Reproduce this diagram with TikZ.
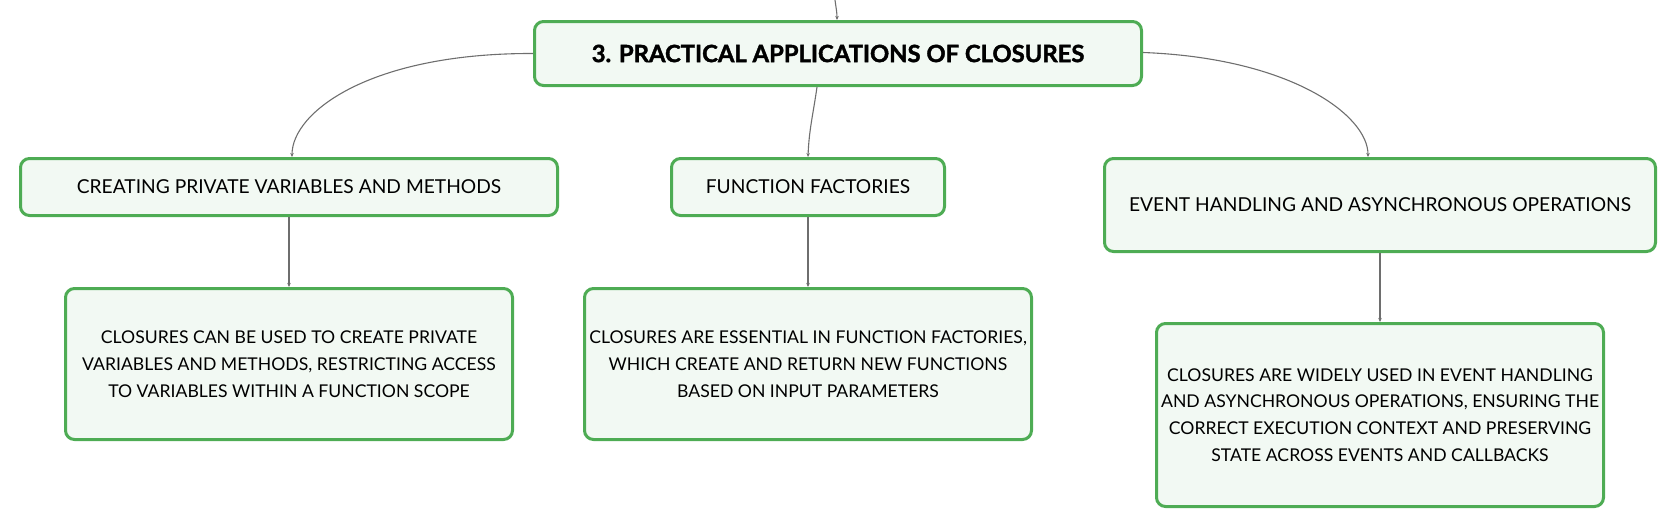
\documentclass[tikz,border=0pt]{standalone}
\usepackage{fontspec}
\setmainfont{Lato}
\usetikzlibrary{arrows.meta}
\definecolor{boxgreen}{RGB}{78,172,84}
\definecolor{boxfill}{RGB}{242,249,243}
\definecolor{linkgray}{RGB}{110,110,110}
\tikzset{
  mmbox/.style={draw=boxgreen, line width=3pt, fill=boxfill, rounded corners=9pt,
    inner sep=0pt, align=center, text=black},
  titlebox/.style={mmbox, font=\fontsize{23.8}{27}\selectfont\bfseries\addfontfeatures{FakeBold=1.6}},
  subbox/.style={mmbox, font=\fontsize{19.2}{23}\selectfont},
  leafbox/.style={mmbox, font=\fontsize{17.6}{26.7}\selectfont},
  link/.style={draw=linkgray, line width=1.1pt, -{Stealth[length=4pt,width=3.5pt]}},
}
\begin{document}
\begin{tikzpicture}[x=1pt,y=-1pt]
\useasboundingbox (0,0) rectangle (1678,530);
\node[titlebox, minimum width=607pt, minimum height=64pt] (main) at (838,53.5) {3. PRACTICAL APPLICATIONS OF CLOSURES};
\node[subbox, minimum width=537pt, minimum height=57pt] (c1) at (289,187) {CREATING PRIVATE VARIABLES AND METHODS};
\node[subbox, minimum width=273pt, minimum height=57pt] (c2) at (808,187) {FUNCTION FACTORIES};
\node[subbox, minimum width=551pt, minimum height=93pt] (c3) at (1380,205) {EVENT HANDLING AND ASYNCHRONOUS OPERATIONS};
\node[leafbox, minimum width=447pt, minimum height=151pt] (l1) at (289,364) {CLOSURES CAN BE USED TO CREATE PRIVATE\\VARIABLES AND METHODS, RESTRICTING ACCESS\\TO VARIABLES WITHIN A FUNCTION SCOPE};
\node[leafbox, minimum width=447pt, minimum height=151pt] (l2) at (808,364) {CLOSURES ARE ESSENTIAL IN FUNCTION FACTORIES,\\WHICH CREATE AND RETURN NEW FUNCTIONS\\BASED ON INPUT PARAMETERS};
\node[leafbox, minimum width=447pt, minimum height=183pt] (l3) at (1380,415) {CLOSURES ARE WIDELY USED IN EVENT HANDLING\\AND ASYNCHRONOUS OPERATIONS, ENSURING THE\\CORRECT EXECUTION CONTEXT AND PRESERVING\\STATE ACROSS EVENTS AND CALLBACKS};
\coordinate (in) at (835,0);
\draw[link] (in) .. controls (836,8) and (837,12) .. ([xshift=-1pt]main.north);
\draw[link] (main.west) .. controls (370,53) and (292,112) .. ([xshift=3pt]c1.north);
\draw[link] ([xshift=-21pt]main.south) .. controls (813,115) and (809,130) .. (c2.north);
\draw[link] ([yshift=1pt]main.east) .. controls (1290,58) and (1368,115) .. ([xshift=-12pt]c3.north);
\draw[link] (c1.south) -- (l1.north);
\draw[link] (c2.south) -- (l2.north);
\draw[link] (c3.south) -- (l3.north);
\end{tikzpicture}
\end{document}
